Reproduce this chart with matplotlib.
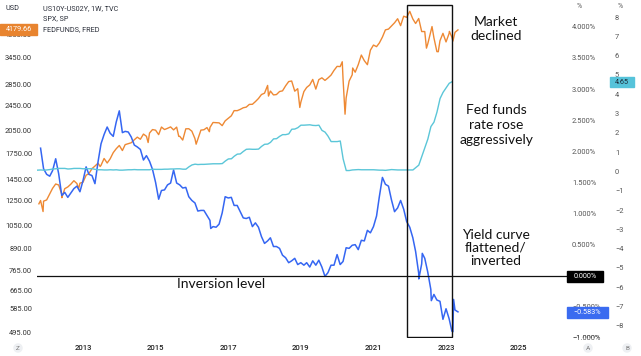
import matplotlib
matplotlib.use('Agg')
import matplotlib.pyplot as plt
import matplotlib.dates as mdates
import pandas as pd
from matplotlib.patches import Rectangle
from matplotlib.transforms import Bbox, TransformedBbox, blended_transform_factory
from matplotlib.ticker import FixedLocator, NullLocator

# ---------------- data ----------------
# S&P 500 month-end closes, Oct 2011 .. Apr 2023
spx_monthly = [1253, 1247, 1258,
               1312, 1366, 1408, 1398, 1310, 1362, 1379, 1407, 1441, 1412, 1416, 1426,
               1498, 1515, 1569, 1598, 1631, 1606, 1686, 1633, 1682, 1757, 1806, 1848,
               1783, 1859, 1872, 1884, 1924, 1960, 1931, 2003, 1972, 2018, 2068, 2059,
               1995, 2105, 2068, 2086, 2107, 2063, 2104, 1972, 1920, 2079, 2080, 2044,
               1940, 1932, 2060, 2065, 2097, 2099, 2174, 2171, 2168, 2126, 2199, 2239,
               2279, 2364, 2363, 2384, 2412, 2423, 2470, 2472, 2519, 2575, 2648, 2674,
               2824, 2714, 2641, 2648, 2705, 2718, 2816, 2902, 2914, 2712, 2760, 2507,
               2704, 2784, 2834, 2946, 2752, 2942, 2980, 2926, 2977, 3038, 3141, 3231,
               3226, 2954, 2585, 2912, 3044, 3100, 3271, 3500, 3363, 3270, 3622, 3756,
               3714, 3811, 3973, 4181, 4204, 4298, 4395, 4523, 4308, 4605, 4567, 4766,
               4516, 4374, 4530, 4132, 4132, 3785, 4130, 3955, 3586, 3872, 4080, 3840,
               4077, 3970, 4109, 4180]
# notable weekly closes
spx_week_dates = ['2011-10-14', '2011-11-25', '2012-06-01', '2012-11-16', '2013-06-21',
                  '2014-10-17', '2015-08-21', '2016-02-12', '2016-06-24', '2018-02-09',
                  '2018-12-21', '2020-02-21', '2020-03-20', '2020-06-05', '2022-06-17',
                  '2022-08-12', '2022-10-14', '2023-02-03', '2023-03-10']
spx_week_values = [1224, 1159, 1278, 1360, 1593,
                   1887, 1971, 1865, 2037, 2620,
                   2417, 3338, 2305, 3194, 3675,
                   4280, 3583, 4136, 3862]

# 10Y-2Y spread (%), month-end, Oct 2011 .. Apr 2023
yc_monthly = [2.05, 1.72, 1.63,
              1.60, 1.69, 1.88, 1.64, 1.29, 1.34, 1.26, 1.33, 1.40, 1.44, 1.35, 1.53,
              1.75, 1.63, 1.61, 1.48, 1.83, 2.12, 2.27, 2.39, 2.29, 2.24, 2.47, 2.65,
              2.30, 2.32, 2.31, 2.23, 2.10, 2.07, 2.03, 1.86, 1.93, 1.84, 1.71, 1.50,
              1.23, 1.37, 1.38, 1.46, 1.49, 1.70, 1.49, 1.46, 1.41, 1.42, 1.27, 1.21,
              1.17, 1.04, 1.05, 1.05, 0.97, 0.89, 0.79, 0.78, 0.83, 1.01, 1.27, 1.25,
              1.26, 1.13, 1.13, 1.03, 0.93, 0.92, 0.94, 0.79, 0.85, 0.78, 0.63, 0.52,
              0.56, 0.61, 0.47, 0.47, 0.44, 0.33, 0.29, 0.21, 0.24, 0.28, 0.18, 0.21,
              0.17, 0.21, 0.14, 0.24, 0.17, 0.25, 0.14, -0.01, 0.05, 0.17, 0.17, 0.34,
              0.18, 0.23, 0.45, 0.44, 0.49, 0.50, 0.42, 0.57, 0.56, 0.73, 0.69, 0.79,
              0.96, 1.27, 1.58, 1.47, 1.44, 1.22, 1.03, 1.09, 1.21, 1.07, 0.87, 0.78,
              0.61, 0.39, 0.04, 0.19, 0.28, 0.06, -0.22, -0.30, -0.39, -0.41, -0.70, -0.53,
              -0.69, -0.89, -0.55, -0.58]
yc_week_dates = ['2016-07-08', '2022-04-01', '2022-05-06', '2022-08-05',
                 '2023-03-10', '2023-03-17']
yc_week_values = [0.76, -0.05, 0.36, -0.40, -0.90, -0.38]

# Effective fed funds rate (%), monthly, Oct 2011 .. Mar 2023
ff_monthly = [0.07, 0.08, 0.07,
              0.08, 0.10, 0.13, 0.14, 0.16, 0.16, 0.16, 0.13, 0.14, 0.16, 0.16, 0.16,
              0.14, 0.15, 0.14, 0.15, 0.11, 0.09, 0.09, 0.08, 0.08, 0.09, 0.08, 0.09,
              0.07, 0.07, 0.08, 0.09, 0.09, 0.10, 0.09, 0.09, 0.09, 0.09, 0.09, 0.12,
              0.11, 0.11, 0.11, 0.12, 0.12, 0.13, 0.13, 0.14, 0.14, 0.12, 0.12, 0.24,
              0.34, 0.38, 0.36, 0.37, 0.37, 0.38, 0.39, 0.40, 0.40, 0.40, 0.41, 0.54,
              0.65, 0.66, 0.79, 0.90, 0.91, 1.04, 1.15, 1.16, 1.15, 1.15, 1.16, 1.30,
              1.41, 1.42, 1.51, 1.69, 1.70, 1.82, 1.91, 1.91, 1.95, 2.19, 2.20, 2.27,
              2.40, 2.40, 2.41, 2.42, 2.39, 2.38, 2.40, 2.13, 2.04, 1.83, 1.55, 1.55,
              1.55, 1.58, 0.65, 0.05, 0.05, 0.08, 0.09, 0.10, 0.09, 0.09, 0.09, 0.09,
              0.09, 0.08, 0.07, 0.07, 0.06, 0.08, 0.10, 0.09, 0.08, 0.08, 0.08, 0.08,
              0.08, 0.08, 0.20, 0.33, 0.77, 1.21, 1.68, 2.33, 2.56, 3.08, 3.78, 4.10,
              4.33, 4.57, 4.65]

spx_ticks = [495, 585, 665, 765, 890, 1050, 1250, 1450, 1750, 2050, 2450, 2850, 3450, 4050]
yc_ticks = [-1.0, -0.5, 0.0, 0.5, 1.0, 1.5, 2.0, 2.5, 3.0, 3.5, 4.0]
ff_ticks = list(range(-8, 9))
year_ticks = [2013, 2015, 2017, 2019, 2021, 2023, 2025]

last_spx, last_yc, last_ff = 4179.66, -0.583, 4.65

# ---------------- series ----------------
def month_ends(start, n):
    return pd.date_range(start, periods=n, freq='MS') + pd.offsets.MonthEnd(0)

spx = pd.concat([pd.Series(spx_monthly, index=month_ends('2011-10-01', len(spx_monthly))),
                 pd.Series(spx_week_values, index=pd.to_datetime(spx_week_dates))]).sort_index()
yc = pd.concat([pd.Series(yc_monthly, index=month_ends('2011-10-01', len(yc_monthly))),
                pd.Series(yc_week_values, index=pd.to_datetime(yc_week_dates))]).sort_index()
ff = pd.Series(ff_monthly, index=pd.date_range('2011-10-01', periods=len(ff_monthly), freq='MS'))

# ---------------- figure ----------------
W, H = 641, 356
fig = plt.figure(figsize=(W / 100, H / 100), dpi=100)
fig.patch.set_facecolor('white')
L, R, T, B = 37, 567, 0, 338
ax = fig.add_axes([L / W, 1 - B / H, (R - L) / W, (B - T) / H])
axA = ax.twinx()
axB = ax.twinx()

ORANGE = '#EE8934'
BLUE = '#3566F2'
CYAN = '#5BC6D8'
TXT = '#2a2e39'
FONT = 'Roboto'
ANN = 'Lato'

ax.plot(spx.index, spx.values, color=ORANGE, lw=1.0)
axB.plot(ff.index, ff.values, color=CYAN, lw=1.0)
axA.plot(yc.index, yc.values, color=BLUE, lw=1.1)

ax.set_xlim(pd.Timestamp('2011-09-25'), pd.Timestamp('2026-05-01'))
ax.set_yscale('log')
ax.set_ylim(474.5, 5163)
axA.set_ylim(-0.986, 4.431)
axB.set_ylim(-8.627, 8.886)

for a in (ax, axA, axB):
    for s in a.spines.values():
        s.set_visible(False)
    a.patch.set_visible(False)

ax.yaxis.set_major_locator(FixedLocator(spx_ticks))
ax.yaxis.set_minor_locator(NullLocator())
ax.set_yticklabels([f'{v:.2f}' for v in spx_ticks])
ax.tick_params(axis='y', length=0, pad=3.6, labelsize=5.4, labelcolor='#333333')

axA.set_yticks(yc_ticks)
axA.set_yticklabels([f'{v:.3f}%'.replace('-', '\u2212') for v in yc_ticks])
axA.tick_params(axis='y', length=0, pad=3.6, labelsize=5.4, labelcolor='#555555')
for lab in axA.get_yticklabels():
    lab.set_horizontalalignment('left')

axB.set_yticks(ff_ticks)
axB.set_yticklabels([str(v).replace('-', '\u2212') for v in ff_ticks])
axB.tick_params(axis='y', length=0, pad=34.5, labelsize=5.4, labelcolor='#555555')

ax.set_xticks([pd.Timestamp(f'{y}-01-01') for y in year_ticks])
ax.set_xticklabels([str(y) for y in year_ticks])
ax.tick_params(axis='x', length=0, pad=5, labelsize=5.6, labelcolor='#222222')
for lab in ax.get_xticklabels():
    lab.set_fontweight('medium')
for a in (ax, axA, axB):
    for lab in a.get_xticklabels() + a.get_yticklabels():
        lab.set_family(FONT)

# inversion level line
axA.axhline(0, color='#111111', lw=0.9)

# highlight box (Dec 2021 - Mar 2023)
tr = blended_transform_factory(axB.transData, axB.transAxes)
x0 = mdates.date2num(pd.Timestamp('2021-12-04'))
x1 = mdates.date2num(pd.Timestamp('2023-03-01'))
axB.add_patch(Rectangle((x0, 1 / 338), x1 - x0, (332 / 338), transform=tr,
                        fill=False, ec='#111111', lw=1.0, zorder=5))

# annotations
def px(x, y):
    return x / W, 1 - y / H

ann_kw = dict(ha='center', va='center', fontsize=10, family=ANN, color='#111111',
              fontweight='normal')
fig.text(*px(496, 29), 'Market\ndeclined', linespacing=1.15, **ann_kw)
fig.text(*px(496, 125), 'Fed funds\nrate rose\naggressively', linespacing=1.3, **ann_kw)
fig.text(*px(496, 248), 'Yield curve\nflattened/\ninverted', linespacing=1.1, **ann_kw)
fig.text(*px(221, 284), 'Inversion level', **ann_kw)

# header texts
fig.text(*px(5, 8), 'USD', ha='left', va='center', fontsize=5.2, family=FONT, color=TXT)
fig.text(*px(43, 9), 'US10Y-US02Y, 1W, TVC', ha='left', va='center', fontsize=5.2, family=FONT, color=TXT)
fig.text(*px(43, 19), 'SPX, SP', ha='left', va='center', fontsize=5.2, family=FONT, color=TXT)
fig.text(*px(43, 30), 'FEDFUNDS, FRED', ha='left', va='center', fontsize=5.2, family=FONT, color=TXT)
fig.text(*px(579, 6), '%', ha='center', va='center', fontsize=5.0, family=FONT, color='#555555')
fig.text(*px(620, 6), '%', ha='center', va='center', fontsize=5.0, family=FONT, color='#555555')

# clipped -1.000% label at the bottom
t = fig.text(*px(572, 339), '\u22121.000%', ha='left', va='center', fontsize=5.4,
             family=FONT, color='#555555')
t.set_clip_box(TransformedBbox(Bbox([[567 / W, 1 - 338 / H], [1, 1]]), fig.transFigure))
t.set_clip_on(True)

# value labels
def label_box(x0p, y0p, x1p, y1p, color, text, tcolor):
    fig.add_artist(Rectangle(px(x0p, y1p), (x1p - x0p) / W, (y1p - y0p) / H,
                             transform=fig.transFigure, color=color, zorder=10))
    fig.text(*px((x0p + x1p) / 2, (y0p + y1p) / 2 + 0.3), text, ha='center', va='center',
             fontsize=5.2, family=FONT, color=tcolor, zorder=11)

label_box(0, 24, 37, 35, '#E8842F', f'{last_spx:.2f}', 'white')
label_box(610, 77, 634, 87, '#56C3DA', f'{last_ff:.2f}', '#1b2a38')
label_box(567, 271, 603, 282, '#000000', '0.000%', 'white')
label_box(567, 307, 608, 318, '#3A6BF0', f'{last_yc:.3f}%'.replace('-', '\u2212'), 'white')

# bottom scale buttons
for xx, s in [(18, 'Z'), (588, 'A'), (627, 'B')]:
    fig.text(*px(xx, 348), s, ha='center', va='center', fontsize=4.6, family=FONT,
             color='#777777',
             bbox=dict(boxstyle='circle,pad=0.35', fc='#eef0f3', ec='none'))

fig.savefig('out.png', dpi=100, facecolor='white')
